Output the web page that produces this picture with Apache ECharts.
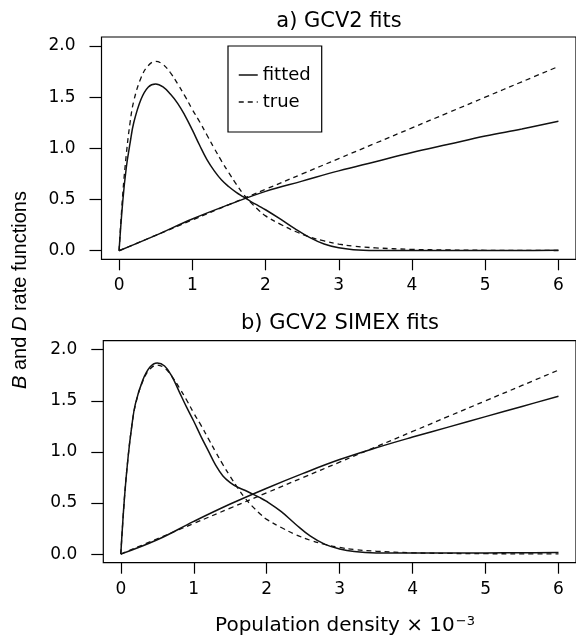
<!DOCTYPE html>
<html>
<head>
<meta charset="utf-8">
<script src="https://cdn.jsdelivr.net/npm/echarts@6/dist/echarts.min.js"></script>
<style>html,body{margin:0;padding:0;background:#fff}#c{width:576px;height:637px}</style>
</head>
<body>
<div id="c"></div>
<script>
// x grid for the humped D curves
const xD = [0,0.05,0.1,0.15,0.2,0.3,0.4,0.5,0.6,0.7,0.8,0.9,1.0,1.1,1.2,1.3,1.4,1.5,1.6,1.7,1.8,1.9,2.0,2.2,2.4,2.6,2.8,3.0,3.2,3.5,4.0,4.5,5.0,5.5,6.0];
// true D (same truth in both panels)
const trueD = [0,0.55,0.95,1.25,1.46,1.69,1.81,1.85,1.82,1.74,1.63,1.51,1.38,1.26,1.13,1.0,0.875,0.76,0.65,0.55,0.47,0.40,0.34,0.26,0.19,0.135,0.095,0.065,0.045,0.028,0.013,0.007,0.004,0.003,0.002];
// panel a fitted D
const fitD_a = [0,0.48,0.82,1.05,1.25,1.48,1.60,1.63,1.60,1.53,1.44,1.32,1.18,1.03,0.89,0.78,0.69,0.625,0.57,0.525,0.48,0.44,0.40,0.31,0.215,0.13,0.065,0.028,0.01,0.003,0.002,0.002,0.003,0.003,0.004];
// panel b fitted D
const fitD_b = [0,0.55,0.95,1.25,1.47,1.70,1.83,1.87,1.84,1.74,1.59,1.44,1.30,1.15,1.01,0.87,0.765,0.70,0.655,0.625,0.59,0.555,0.515,0.415,0.29,0.175,0.095,0.05,0.025,0.012,0.01,0.011,0.012,0.014,0.015];
// x grid for the B curves
const xB = [0,0.5,1,1.5,2,2.5,3,3.5,4,4.5,5,5.5,6];
const trueB = [0,0.15,0.3,0.45,0.6,0.75,0.9,1.05,1.2,1.35,1.5,1.65,1.8];
const fitB_a = [0,0.15,0.31,0.45,0.58,0.68,0.78,0.87,0.96,1.04,1.12,1.19,1.265];
const fitB_b = [0,0.14,0.32,0.49,0.645,0.79,0.925,1.04,1.145,1.245,1.345,1.445,1.545];
// tick labels
const xTicks = [0,1,2,3,4,5,6];
const yTicks = [0,0.5,1,1.5,2];
const panelTitles = ['a) GCV2 fits','b) GCV2 SIMEX fits'];
const legendNames = ['fitted','true'];

const FONT = 'DejaVu Sans';
const zip = (xs, ys) => xs.map((x,i)=>[x, ys[i]]);

function xAxisFor(gi){
  return {
    gridIndex: gi, type:'value', min:-0.24, max:6.24, position:'bottom',
    axisLine:{show:false, onZero:false}, splitLine:{show:false},
    axisTick:{show:true, customValues:xTicks, length:11, inside:false, lineStyle:{color:'#000', width:1.2}},
    axisLabel:{show:true, customValues:xTicks, margin:18, color:'#000', fontFamily:FONT, fontSize:17}
  };
}
function yAxisFor(gi){
  return {
    gridIndex: gi, type:'value', min:-0.084, max:2.088, position:'left',
    axisLine:{show:false, onZero:false}, splitLine:{show:false},
    axisTick:{show:true, customValues:yTicks, length:12, inside:false, lineStyle:{color:'#000', width:1.2}},
    axisLabel:{show:true, customValues:yTicks, margin:26, color:'#000', fontFamily:FONT, fontSize:17,
      formatter: v => Number(v).toFixed(1)}
  };
}
function line(name, gi, data, dashed){
  return {
    name, type:'line', xAxisIndex:gi, yAxisIndex:gi, data,
    symbol:'none', showSymbol:false, smooth:0.4, silent:true,
    lineStyle:{color:'#111', width: dashed?1.3:1.5, type: dashed?[5,4]:'solid'},
    itemStyle:{color:'#111'}
  };
}

const chart = echarts.init(document.getElementById('c'), null, {renderer:'canvas'});
chart.setOption({
  animation:false,
  backgroundColor:'#fff',
  title:[
    {text:panelTitles[0], left:339, top:11, textAlign:'center', padding:0,
      textStyle:{fontFamily:FONT, fontSize:21, fontWeight:'normal', color:'#000'}},
    {text:panelTitles[1], left:340, top:313, textAlign:'center', padding:0,
      textStyle:{fontFamily:FONT, fontSize:21, fontWeight:'normal', color:'#000'}},
    {text:'{a|Population density × 10}{s|−3}', left:345, top:615, textAlign:'center', padding:0,
      textStyle:{fontFamily:FONT, fontSize:20, fontWeight:'normal', color:'#000',
        rich:{a:{fontFamily:FONT, fontSize:20, color:'#000', verticalAlign:'bottom'},
              s:{fontFamily:FONT, fontSize:13, color:'#000', verticalAlign:'bottom', padding:[0,0,8,1]}}}}
  ],
  legend:{
    data:legendNames, orient:'vertical', left:228, top:46,
    borderColor:'#000', borderWidth:1.2, backgroundColor:'#fff',
    padding:[20,11,21,10], itemWidth:19, itemHeight:14, itemGap:9,
    itemStyle:{opacity:0},
    lineStyle:{width:1.5},
    textStyle:{fontFamily:FONT, fontSize:18, color:'#000'},
    selectedMode:false
  },
  grid:[
    {left:101.5, top:37, width:476, height:222.3, show:true, borderColor:'#000', borderWidth:1.2, backgroundColor:'transparent'},
    {left:103.3, top:340.7, width:476, height:222, show:true, borderColor:'#000', borderWidth:1.2, backgroundColor:'transparent'}
  ],
  xAxis:[xAxisFor(0), xAxisFor(1)],
  yAxis:[yAxisFor(0), yAxisFor(1)],
  series:[
    line('fitted',0,zip(xD,fitD_a),false),
    line('fitted',0,zip(xB,fitB_a),false),
    line('true',0,zip(xD,trueD),true),
    line('true',0,zip(xB,trueB),true),
    line('fitted',1,zip(xD,fitD_b),false),
    line('fitted',1,zip(xB,fitB_b),false),
    line('true',1,zip(xD,trueD),true),
    line('true',1,zip(xB,trueB),true)
  ],
  graphic:[
    {type:'text', x:20, y:290, rotation:Math.PI/2,
      style:{text:'{i|B}{n| and }{i|D}{n| rate functions}', align:'center', verticalAlign:'middle',
        rich:{i:{fontFamily:'Liberation Sans', fontSize:20, fontStyle:'italic', fill:'#000'},
              n:{fontFamily:'Liberation Sans', fontSize:20, fill:'#000'}}}}
  ]
});
</script>
</body>
</html>
